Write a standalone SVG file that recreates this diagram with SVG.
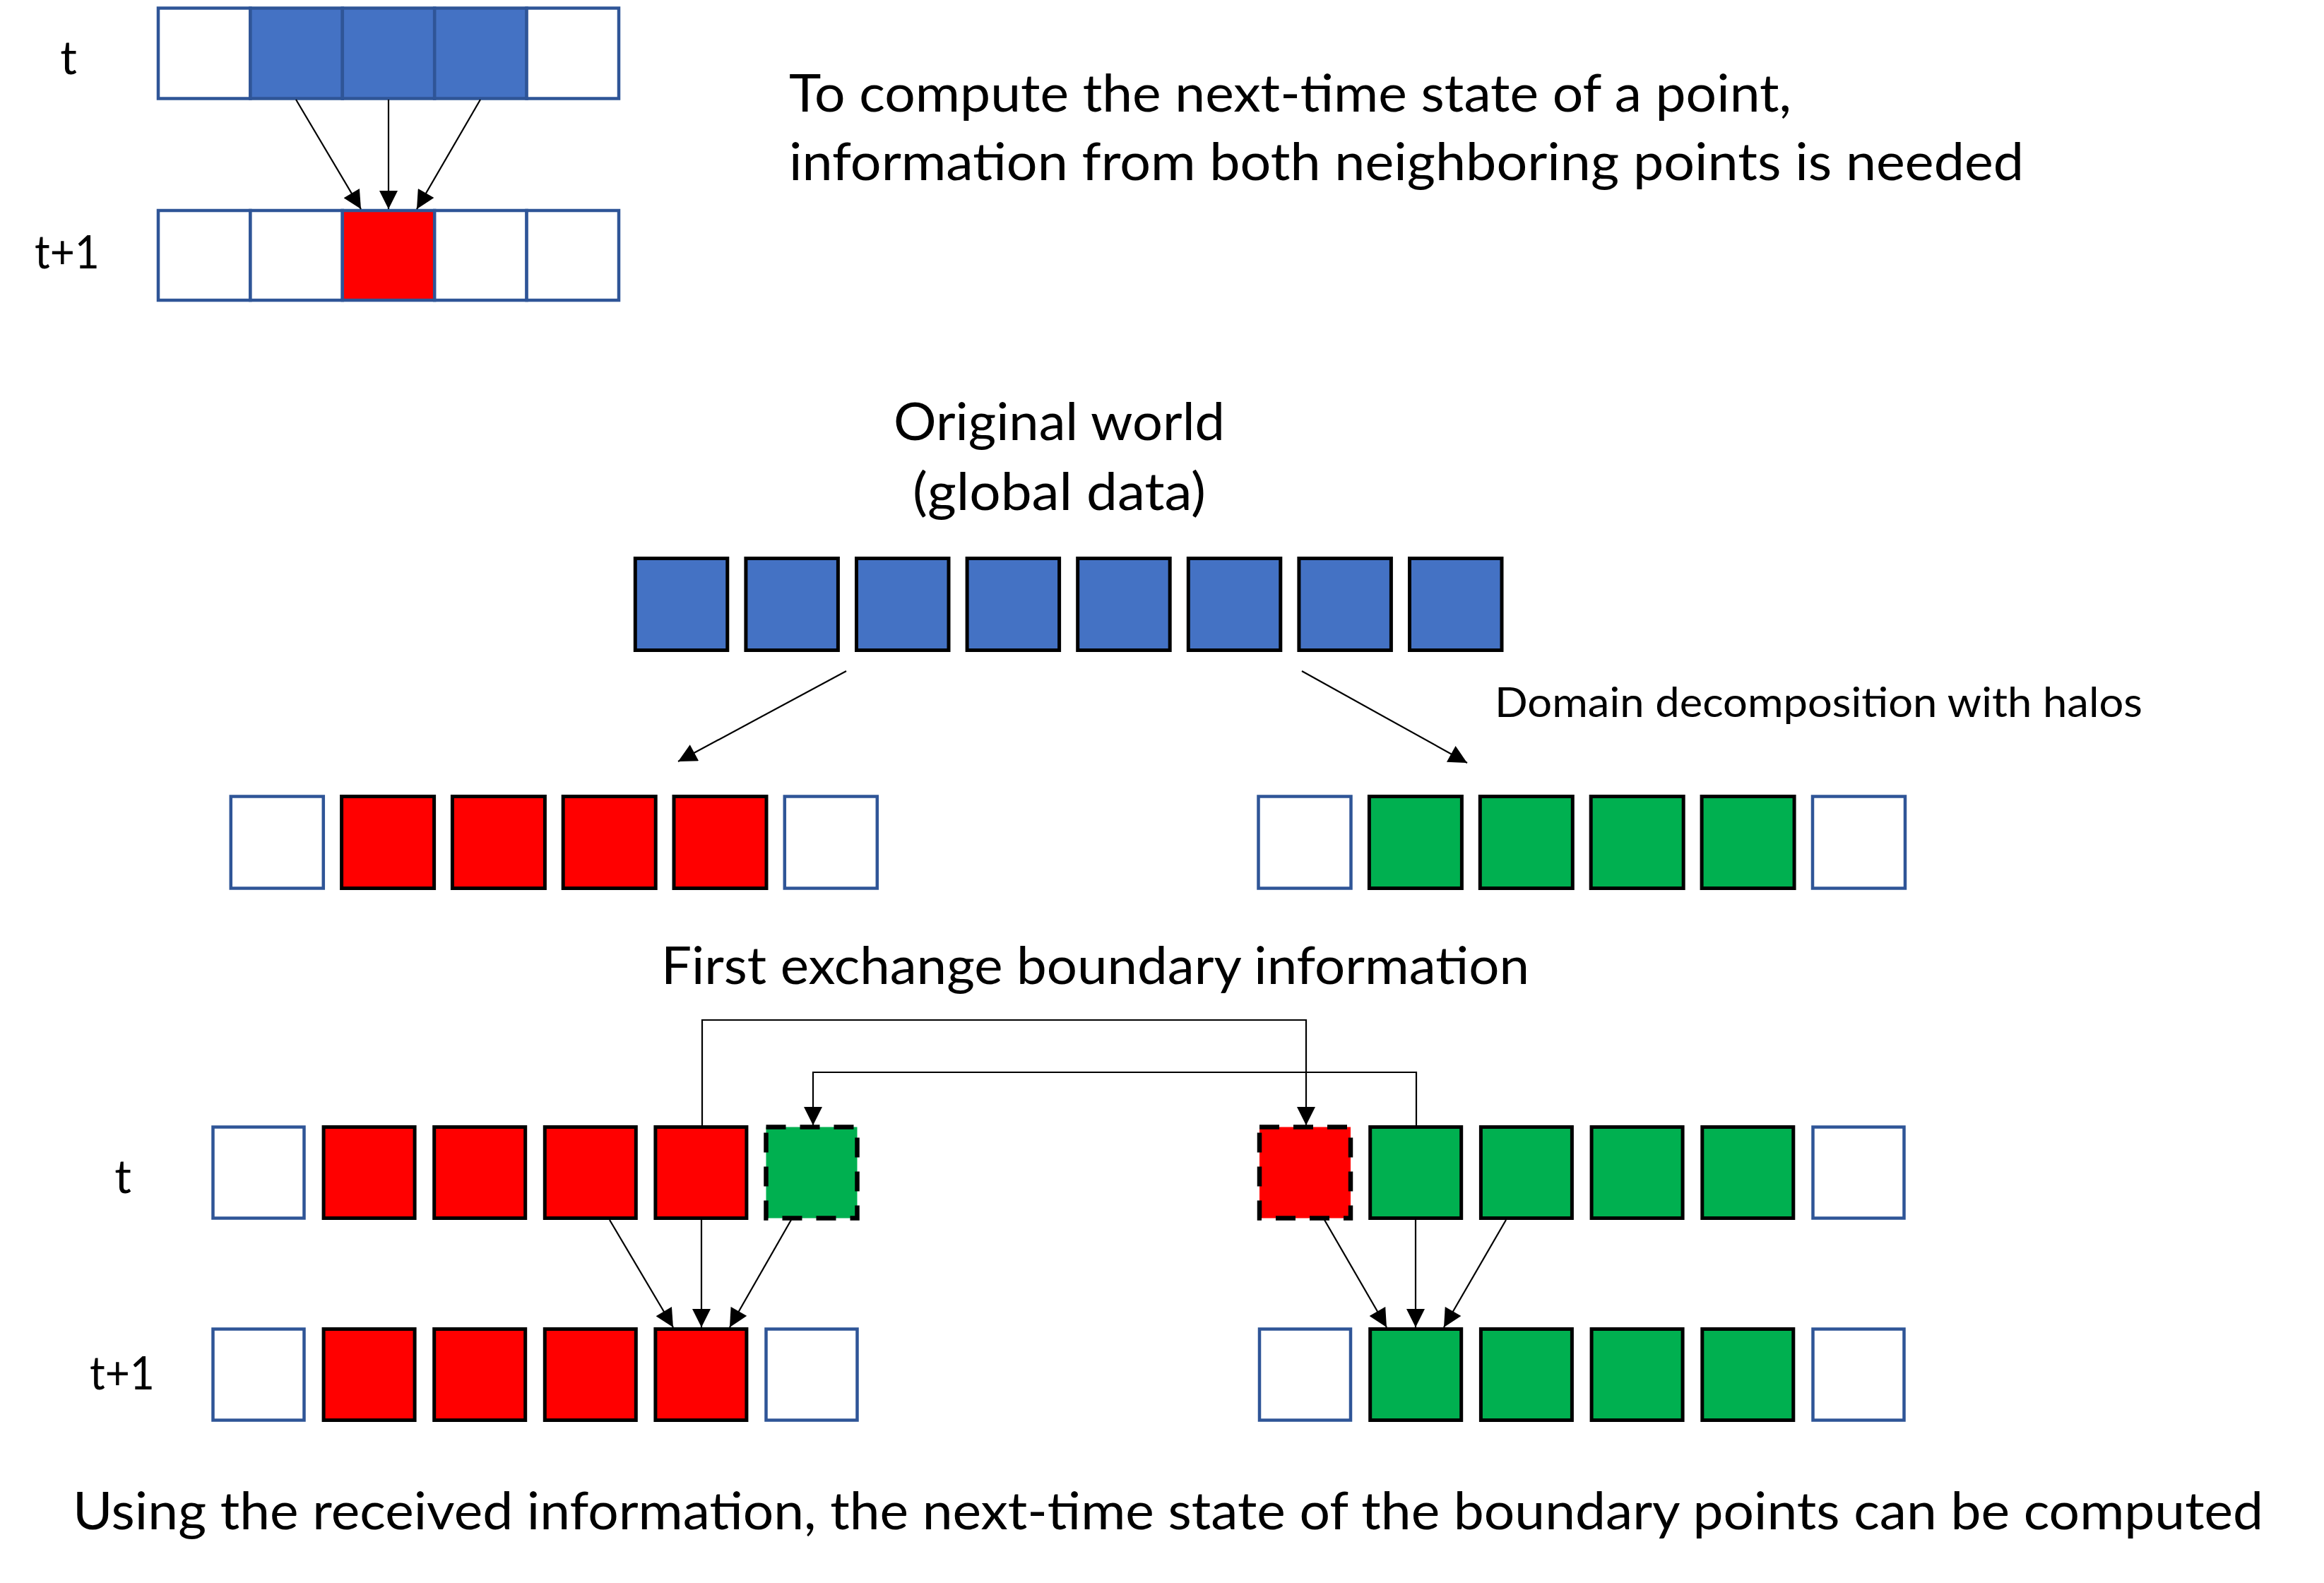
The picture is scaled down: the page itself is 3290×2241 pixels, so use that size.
<svg xmlns="http://www.w3.org/2000/svg" width="3290" height="2241" viewBox="0 0 3290 2241">
<defs>
<style>
.txt{font-family:Lato,"Liberation Sans",sans-serif;fill:#000}
.big{font-size:73px}
.lbl{font-size:66px}
.small{font-size:59px}
.ghost{fill:#fff;stroke:#2F5597;stroke-width:4.5}
.tb{fill:#4472C4;stroke:#2F5597;stroke-width:4.5}
.tr{fill:#FF0000;stroke:#2F5597;stroke-width:4.5}
.blue{fill:#4472C4;stroke:#000;stroke-width:5}
.red{fill:#FF0000;stroke:#000;stroke-width:5}
.green{fill:#00B050;stroke:#000;stroke-width:5}
.dash{stroke-dasharray:28 20;stroke-width:6.5}
.conn{fill:none;stroke:#000;stroke-width:2.2}
</style>
<marker id="ah" viewBox="0 0 10 10" refX="10" refY="5" markerUnits="userSpaceOnUse" markerWidth="27" markerHeight="26" orient="auto">
<path d="M0,0 L10,5 L0,10 z" fill="#000"/>
</marker>
</defs>
<rect width="3290" height="2241" fill="#fff"/>

<!-- top example -->
<g id="top-t-row">
<g id="tt0"><rect class="ghost" x="224" y="11.5" width="130.4" height="128"/></g>
<g id="tt1"><rect class="tb" x="354.4" y="11.5" width="130.4" height="128"/></g>
<g id="tt2"><rect class="tb" x="484.8" y="11.5" width="130.4" height="128"/></g>
<g id="tt3"><rect class="tb" x="615.2" y="11.5" width="130.4" height="128"/></g>
<g id="tt4"><rect class="ghost" x="745.6" y="11.5" width="130.4" height="128"/></g>
</g>
<g id="top-t1-row">
<g id="tn0"><rect class="ghost" x="224" y="298" width="130.4" height="127"/></g>
<g id="tn1"><rect class="ghost" x="354.4" y="298" width="130.4" height="127"/></g>
<g id="tn2"><rect class="tr" x="484.8" y="298" width="130.4" height="127"/></g>
<g id="tn3"><rect class="ghost" x="615.2" y="298" width="130.4" height="127"/></g>
<g id="tn4"><rect class="ghost" x="745.6" y="298" width="130.4" height="127"/></g>
</g>
<g id="lbl-top-t"><text class="txt lbl" x="97" y="105" text-anchor="middle">t</text></g>
<g id="lbl-top-t1"><text class="txt lbl" x="95" y="380" text-anchor="middle" textLength="92" lengthAdjust="spacingAndGlyphs">t+1</text></g>
<g id="desc-top">
<text class="txt big" x="1117" y="158" textLength="1419" lengthAdjust="spacingAndGlyphs">To compute the next-time state of a point,</text>
<text class="txt big" x="1117" y="255" textLength="1748" lengthAdjust="spacingAndGlyphs">information from both neighboring points is needed</text>
</g>

<!-- global data -->
<g id="title-global">
<text class="txt big" x="1265" y="623" textLength="469" lengthAdjust="spacingAndGlyphs">Original world</text>
<text class="txt big" x="1292" y="722" textLength="415" lengthAdjust="spacingAndGlyphs">(global data)</text>
</g>
<g id="global-row">
<g id="g0"><rect class="blue" x="899.3" y="790.5" width="130.5" height="130"/></g>
<g id="g1"><rect class="blue" x="1055.9" y="790.5" width="130.5" height="130"/></g>
<g id="g2"><rect class="blue" x="1212.5" y="790.5" width="130.5" height="130"/></g>
<g id="g3"><rect class="blue" x="1369.1" y="790.5" width="130.5" height="130"/></g>
<g id="g4"><rect class="blue" x="1525.7" y="790.5" width="130.5" height="130"/></g>
<g id="g5"><rect class="blue" x="1682.3" y="790.5" width="130.5" height="130"/></g>
<g id="g6"><rect class="blue" x="1838.9" y="790.5" width="130.5" height="130"/></g>
<g id="g7"><rect class="blue" x="1995.5" y="790.5" width="130.5" height="130"/></g>
</g>
<g id="lbl-domain"><text class="txt small" x="2116" y="1015" textLength="917" lengthAdjust="spacingAndGlyphs">Domain decomposition with halos</text></g>

<!-- decomposed rows -->
<g id="mid-left-row">
<g id="ml0"><rect class="ghost" x="326.8" y="1127.5" width="131" height="130"/></g>
<g id="ml1"><rect class="red" x="483.6" y="1127.5" width="131" height="130"/></g>
<g id="ml2"><rect class="red" x="640.4" y="1127.5" width="131" height="130"/></g>
<g id="ml3"><rect class="red" x="797.2" y="1127.5" width="131" height="130"/></g>
<g id="ml4"><rect class="red" x="954" y="1127.5" width="131" height="130"/></g>
<g id="ml5"><rect class="ghost" x="1110.8" y="1127.5" width="131" height="130"/></g>
</g>
<g id="mid-right-row">
<g id="mr0"><rect class="ghost" x="1781.5" y="1127.5" width="131" height="130"/></g>
<g id="mr1"><rect class="green" x="1938.4" y="1127.5" width="131" height="130"/></g>
<g id="mr2"><rect class="green" x="2095.3" y="1127.5" width="131" height="130"/></g>
<g id="mr3"><rect class="green" x="2252.2" y="1127.5" width="131" height="130"/></g>
<g id="mr4"><rect class="green" x="2409.1" y="1127.5" width="131" height="130"/></g>
<g id="mr5"><rect class="ghost" x="2566" y="1127.5" width="131" height="130"/></g>
</g>
<g id="lbl-exchange"><text class="txt big" x="936" y="1393" textLength="1229" lengthAdjust="spacingAndGlyphs">First exchange boundary information</text></g>

<!-- bottom rows -->
<g id="lbl-bot-t"><text class="txt lbl" x="174" y="1689" text-anchor="middle">t</text></g>
<g id="lbl-bot-t1"><text class="txt lbl" x="173" y="1967" text-anchor="middle" textLength="92" lengthAdjust="spacingAndGlyphs">t+1</text></g>
<g id="bot-left-t-row">
<g id="blt0"><rect class="ghost" x="301.5" y="1595.5" width="129" height="129"/></g>
<g id="blt1"><rect class="red" x="458.1" y="1595.5" width="129" height="129"/></g>
<g id="blt2"><rect class="red" x="614.7" y="1595.5" width="129" height="129"/></g>
<g id="blt3"><rect class="red" x="771.3" y="1595.5" width="129" height="129"/></g>
<g id="blt4"><rect class="red" x="927.9" y="1595.5" width="129" height="129"/></g>
<g id="blt5"><rect class="green dash" x="1084.5" y="1595.5" width="129" height="129"/></g>
</g>
<g id="bot-left-t1-row">
<g id="bln0"><rect class="ghost" x="301.5" y="1881.5" width="129" height="129"/></g>
<g id="bln1"><rect class="red" x="458.1" y="1881.5" width="129" height="129"/></g>
<g id="bln2"><rect class="red" x="614.7" y="1881.5" width="129" height="129"/></g>
<g id="bln3"><rect class="red" x="771.3" y="1881.5" width="129" height="129"/></g>
<g id="bln4"><rect class="red" x="927.9" y="1881.5" width="129" height="129"/></g>
<g id="bln5"><rect class="ghost" x="1084.5" y="1881.5" width="129" height="129"/></g>
</g>
<g id="bot-right-t-row">
<g id="brt0"><rect class="red dash" x="1783" y="1595.5" width="129" height="129"/></g>
<g id="brt1"><rect class="green" x="1939.7" y="1595.5" width="129" height="129"/></g>
<g id="brt2"><rect class="green" x="2096.4" y="1595.5" width="129" height="129"/></g>
<g id="brt3"><rect class="green" x="2253.1" y="1595.5" width="129" height="129"/></g>
<g id="brt4"><rect class="green" x="2409.8" y="1595.5" width="129" height="129"/></g>
<g id="brt5"><rect class="ghost" x="2566.5" y="1595.5" width="129" height="129"/></g>
</g>
<g id="bot-right-t1-row">
<g id="brn0"><rect class="ghost" x="1783" y="1881.5" width="129" height="129"/></g>
<g id="brn1"><rect class="green" x="1939.7" y="1881.5" width="129" height="129"/></g>
<g id="brn2"><rect class="green" x="2096.4" y="1881.5" width="129" height="129"/></g>
<g id="brn3"><rect class="green" x="2253.1" y="1881.5" width="129" height="129"/></g>
<g id="brn4"><rect class="green" x="2409.8" y="1881.5" width="129" height="129"/></g>
<g id="brn5"><rect class="ghost" x="2566.5" y="1881.5" width="129" height="129"/></g>
</g>
<g id="lbl-bottom"><text class="txt big" x="103" y="2165" textLength="3101" lengthAdjust="spacingAndGlyphs">Using the received information, the next-time state of the boundary points can be computed</text></g>

<!-- connectors -->
<g id="connectors">
<line class="conn" x1="419" y1="141" x2="511" y2="296" marker-end="url(#ah)"/>
<line class="conn" x1="550" y1="141" x2="550" y2="296" marker-end="url(#ah)"/>
<line class="conn" x1="680" y1="141" x2="590" y2="296" marker-end="url(#ah)"/>
<line class="conn" x1="1198" y1="950" x2="960" y2="1078" marker-end="url(#ah)"/>
<line class="conn" x1="1843" y1="950" x2="2077" y2="1080" marker-end="url(#ah)"/>
<path class="conn" d="M994,1593 V1444 H1849 V1593" marker-end="url(#ah)"/>
<path class="conn" d="M2005,1593 V1518 H1151 V1593" marker-end="url(#ah)"/>
<line class="conn" x1="863" y1="1727" x2="953" y2="1879" marker-end="url(#ah)"/>
<line class="conn" x1="993" y1="1727" x2="993" y2="1879" marker-end="url(#ah)"/>
<line class="conn" x1="1120" y1="1727" x2="1033" y2="1879" marker-end="url(#ah)"/>
<line class="conn" x1="1875" y1="1727" x2="1963" y2="1879" marker-end="url(#ah)"/>
<line class="conn" x1="2004" y1="1727" x2="2004" y2="1879" marker-end="url(#ah)"/>
<line class="conn" x1="2132" y1="1727" x2="2044" y2="1879" marker-end="url(#ah)"/>
</g>
</svg>
